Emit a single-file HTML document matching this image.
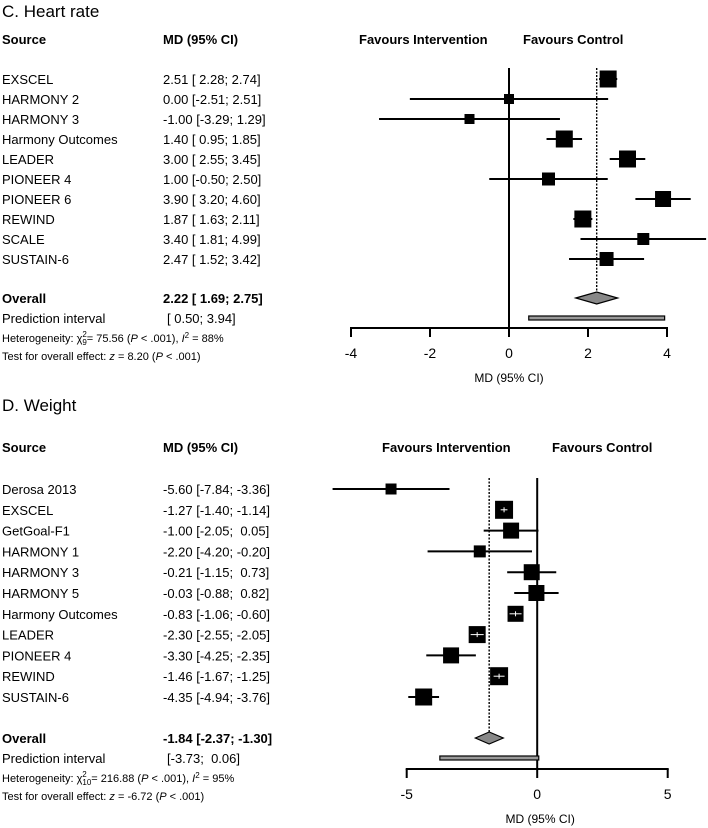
<!DOCTYPE html>
<html><head><meta charset="utf-8"><style>
html,body{margin:0;padding:0;background:#fff;}
svg{display:block;font-family:"Liberation Sans",Arial,sans-serif;}
svg text{white-space:pre;}
</style></head><body>
<svg id="chart" width="708" height="828" viewBox="0 0 708 828" xmlns="http://www.w3.org/2000/svg" xml:space="preserve"></svg>
<script>
// Panel C: Heart rate
const hrStudies = ["EXSCEL","HARMONY 2","HARMONY 3","Harmony Outcomes","LEADER","PIONEER 4","PIONEER 6","REWIND","SCALE","SUSTAIN-6"];
const hrMean = [2.51,0.00,-1.00,1.40,3.00,1.00,3.90,1.87,3.40,2.47];
const hrLo = [2.28,-2.51,-3.29,0.95,2.55,-0.50,3.20,1.63,1.81,1.52];
const hrHi = [2.74,2.51,1.29,1.85,3.45,2.50,4.60,2.11,4.99,3.42];
const hrWeight = [17,10,10,17,17,13,16,17,12,14];
const hrLabels = ["2.51 [ 2.28; 2.74]","0.00 [-2.51; 2.51]","-1.00 [-3.29; 1.29]","1.40 [ 0.95; 1.85]","3.00 [ 2.55; 3.45]","1.00 [-0.50; 2.50]","3.90 [ 3.20; 4.60]","1.87 [ 1.63; 2.11]","3.40 [ 1.81; 4.99]","2.47 [ 1.52; 3.42]"];
const hrOverall = [2.22,1.69,2.75];
const hrPI = [0.50,3.94];
const hrTicks = [-4,-2,0,2,4];

// Panel D: Weight
const wtStudies = ["Derosa 2013","EXSCEL","GetGoal-F1","HARMONY 1","HARMONY 3","HARMONY 5","Harmony Outcomes","LEADER","PIONEER 4","REWIND","SUSTAIN-6"];
const wtMean = [-5.60,-1.27,-1.00,-2.20,-0.21,-0.03,-0.83,-2.30,-3.30,-1.46,-4.35];
const wtLo = [-7.84,-1.40,-2.05,-4.20,-1.15,-0.88,-1.06,-2.55,-4.25,-1.67,-4.94];
const wtHi = [-3.36,-1.14,0.05,-0.20,0.73,0.82,-0.60,-2.05,-2.35,-1.25,-3.76];
const wtWeight = [11,18,16,12,16,16,16,17,16,18,17];
const wtLabels = ["-5.60 [-7.84; -3.36]","-1.27 [-1.40; -1.14]","-1.00 [-2.05;  0.05]","-2.20 [-4.20; -0.20]","-0.21 [-1.15;  0.73]","-0.03 [-0.88;  0.82]","-0.83 [-1.06; -0.60]","-2.30 [-2.55; -2.05]","-3.30 [-4.25; -2.35]","-1.46 [-1.67; -1.25]","-4.35 [-4.94; -3.76]"];
const wtOverall = [-1.84,-2.37,-1.30];
const wtPI = [-3.73,0.06];
const wtTicks = [-5,0,5];

const svg = document.getElementById('chart');
const NS = "http://www.w3.org/2000/svg";
function mk(tag, attrs, parent){
  const e = document.createElementNS(NS, tag);
  for (const k in attrs) e.setAttribute(k, attrs[k]);
  (parent||svg).appendChild(e);
  return e;
}
function txt(x,y,s,size,weight,parent,anchor){
  const t = mk('text',{x:x,y:y,'font-size':size,'font-weight':weight||'normal','text-anchor':anchor||'start',fill:'#000'},parent);
  t.textContent = s;
  return t;
}

function panel(o){
  const g = mk('g',{});
  
  
  const sx = v => o.x0 + (v - o.d0) * (o.x1 - o.x0) / (o.d1 - o.d0);
  const ry = i => o.rowY0 + i * o.rowStep;
  let t = txt(2, o.titleY, o.title, 17, 'normal', g);
  
  
  t = txt(2, o.headY, 'Source', 13, 'bold', g);
  
  
  t = txt(163, o.headY, 'MD (95% CI)', 13, 'bold', g);
  
  
  t = txt(o.favIX, o.headY, 'Favours Intervention', 13, 'bold', g);
  
  
  t = txt(o.favCX, o.headY, 'Favours Control', 13, 'bold', g);
  
  

  let l = mk('line',{x1:sx(0),x2:sx(0),y1:o.vTop,y2:o.axisY,stroke:'#000','stroke-width':2},g);
  
  
  l = mk('line',{x1:sx(o.overall[0]),x2:sx(o.overall[0]),y1:o.vTop,y2:o.diamondY,stroke:'#000','stroke-width':1.4,'stroke-dasharray':'2,1.5'},g);
  
  

  for (let i=0;i<o.studies.length;i++){
    const y = ry(i);
    let s = txt(2, y+5, o.studies[i], 13, 'normal', g);
    
    
    s = txt(163, y+5, o.labels[i], 13, 'normal', g);
    
    
    const ci = mk('line',{x1:sx(o.lo[i]),x2:sx(o.hi[i]),y1:y,y2:y,stroke:'#000','stroke-width':2},g);
    
    
    const w = o.w[i];
    const r = mk('rect',{x:sx(o.mean[i])-w/2,y:y-w/2,width:w,height:w,fill:'#000'},g);
    
    
    if (sx(o.hi[i])-sx(o.lo[i]) < w-2){
      const wl = mk('line',{x1:sx(o.lo[i]),x2:sx(o.hi[i]),y1:y,y2:y,stroke:'#fff','stroke-width':1},g);
      
      
      const wv = mk('line',{x1:sx(o.mean[i]),x2:sx(o.mean[i]),y1:y-2.5,y2:y+2.5,stroke:'#fff','stroke-width':1},g);
      
      
    }
  }
  let s = txt(2, o.diamondY+5, 'Overall', 13, 'bold', g);
  
  
  s = txt(163, o.diamondY+5, o.overallLabel, 13, 'bold', g);
  
  
  const dy = o.diamondY;
  const dm = mk('polygon',{points:`${sx(o.overall[1])},${dy} ${sx(o.overall[0])},${dy-6} ${sx(o.overall[2])},${dy} ${sx(o.overall[0])},${dy+6}`,fill:'#888',stroke:'#000','stroke-width':1.2},g);
  
  
  s = txt(2, o.piY+5, 'Prediction interval', 13, 'normal', g);
  
  
  s = txt(o.piTextX, o.piY+5, o.piLabel, 13, 'normal', g);
  
  
  const pr = mk('rect',{x:sx(o.pi[0]),y:o.piY-2,width:sx(o.pi[1])-sx(o.pi[0]),height:4,fill:'#999',stroke:'#000','stroke-width':1.2},g);
  
  
  const h = mk('text',{x:2,y:o.piY+24,'font-size':11,fill:'#000'},g);
  
  
  const subW = o.df.length*4.5;
  h.innerHTML = 'Heterogeneity: χ<tspan font-size="8" dy="3">' + o.df + '</tspan><tspan font-size="8" dx="-' + subW + '" dy="-8">2</tspan><tspan dx="' + (subW-4.5) + '" dy="5">= ' + o.chi + ' (<tspan font-style="italic">P</tspan> &lt; .001), <tspan font-style="italic">I</tspan></tspan><tspan font-size="8" dy="-4">2</tspan><tspan dy="4"> = ' + o.i2 + '</tspan>';
  const te = mk('text',{x:2,y:o.piY+42,'font-size':11,fill:'#000'},g);
  
  
  te.innerHTML = 'Test for overall effect: <tspan font-style="italic">z</tspan> = ' + o.z + ' (<tspan font-style="italic">P</tspan> &lt; .001)';

  const ax = mk('line',{x1:sx(o.d0)-1,x2:sx(o.d1)+1,y1:o.axisY,y2:o.axisY,stroke:'#000','stroke-width':2},g);
  
  
  for (const tv of o.ticks){
    const tk = mk('line',{x1:sx(tv),x2:sx(tv),y1:o.axisY,y2:o.axisY+9,stroke:'#000','stroke-width':2},g);
    
    
    const tl = txt(sx(tv), o.axisY+30, String(tv), 14, 'normal', g, 'middle');
    
    
  }
  const at = txt(sx(0)+(o.axTitleDX||0), o.axisY+54, 'MD (95% CI)', 12, 'normal', g, 'middle');
  
  
}

panel({name:'panel-heart-rate',title:'C. Heart rate',titleY:17,headY:44,favIX:359,favCX:523,
  x0:351,x1:667,d0:-4,d1:4,rowY0:79,rowStep:20,vTop:68,axisY:328,diamondY:298,piY:318,
  studies:hrStudies,mean:hrMean,lo:hrLo,hi:hrHi,w:hrWeight,labels:hrLabels,overall:hrOverall,pi:hrPI,ticks:hrTicks,
  overallLabel:'2.22 [ 1.69; 2.75]',piLabel:'[ 0.50; 3.94]',piTextX:167,df:'9',chi:'75.56',i2:'88%',z:'8.20',axTitleDX:0});

panel({name:'panel-weight',title:'D. Weight',titleY:411,headY:452,favIX:382,favCX:552,
  x0:406.7,x1:667.7,d0:-5,d1:5,rowY0:489,rowStep:20.8,vTop:478,axisY:769,diamondY:738,piY:758,
  studies:wtStudies,mean:wtMean,lo:wtLo,hi:wtHi,w:wtWeight,labels:wtLabels,overall:wtOverall,pi:wtPI,ticks:wtTicks,
  overallLabel:'-1.84 [-2.37; -1.30]',piLabel:'[-3.73;  0.06]',piTextX:167,df:'10',chi:'216.88',i2:'95%',z:'-6.72',axTitleDX:3});
</script>
</body></html>
